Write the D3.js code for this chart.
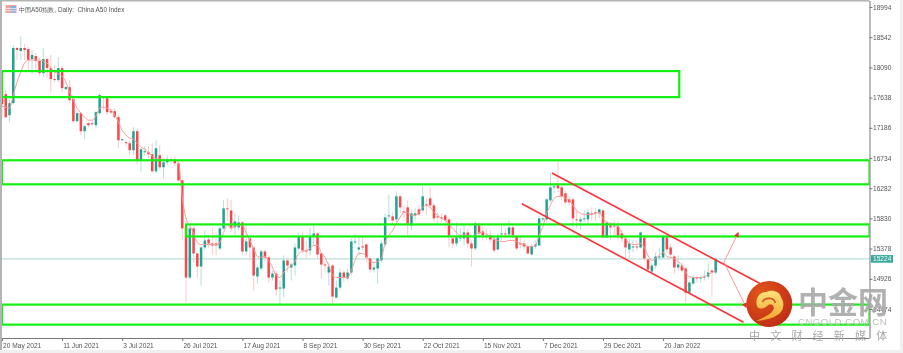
<!DOCTYPE html>
<html>
<head>
<meta charset="utf-8">
<script src="https://cdnjs.cloudflare.com/ajax/libs/d3/7.8.5/d3.min.js"></script>
<style>
    html, body { margin: 0; padding: 0; background: #fff; overflow: hidden; }
    svg { filter: blur(0.3px); }
    text { font-family: "Liberation Sans", Arial, sans-serif; }
    .axis text { font-size: 6.6px; fill: #555; }
    .axis path, .axis line { stroke: #777; }
</style>
</head>
<body>
<div id="chart"></div>
<script>
const opens = [
    17630,17690,17375,17555,18380,18335,18380,18365,18215,18260,
    18185,18005,18215,18080,17915,17900,18080,17765,17795,17615,
    17285,17405,17135,17255,17255,17225,17405,17645,17630,17435,
    17435,17345,17000,16970,16955,16850,17135,16700,16820,16820,
    16790,16535,16775,16595,16670,16700,16715,16655,16400,15710,
    14945,15680,15305,15110,15395,15515,15455,15455,15380,15680,
    15980,15950,15695,15695,15770,15335,15530,15395,14960,15080,
    15335,15245,14945,15005,14780,14780,15200,15095,15125,15380,
    15560,15350,15350,15560,15605,15305,15140,15020,15125,14645,
    14795,15020,14930,15020,15470,15365,15410,15440,15230,15065,
    15080,15200,15440,15860,15860,15815,16160,15935,15995,15725,
    15875,15965,15950,16040,16130,16025,15860,15845,15875,15815,
    15530,15455,15530,15530,15620,15455,15380,15725,15635,15575,
    15575,15515,15365,15590,15605,15590,15695,15560,15455,15455,
    15410,15290,15410,15425,15815,15815,16100,16295,16325,16295,
    16205,16115,16115,15815,15785,15815,15815,15905,15920,15905,
    15950,15545,15725,15725,15710,15605,15530,15365,15395,15410,
    15395,15545,15215,15035,15125,15245,15245,15545,15395,15260,
    15095,15125,15080,14720,14855,14945,14930,14945,14960,15050,15020
];
const closes = [
    17540,17345,17555,18380,18350,18380,18350,18200,18275,18185,
    18005,18215,18080,17915,17905,18080,17780,17795,17600,17285,
    17405,17135,17210,17225,17240,17420,17675,17630,17420,17415,
    17345,17000,17015,16955,16850,17135,16700,16865,16835,16790,
    16535,16880,16595,16670,16715,16715,16655,16400,15680,14945,
    15680,15305,15110,15395,15500,15455,15425,15425,15680,15980,
    15965,15680,15785,15770,15335,15485,15395,14975,15095,15335,
    15245,14945,15005,14765,14795,15200,15125,15140,15395,15560,
    15350,15335,15560,15605,15290,15140,15125,15110,14660,14795,
    15020,14945,15020,15485,15485,15395,15395,15245,15065,15095,
    15230,15455,15845,15875,15800,16160,15995,15920,15755,15905,
    15905,15890,16160,16025,16025,15830,15845,15830,15800,15575,
    15455,15545,15545,15620,15455,15380,15755,15605,15575,15560,
    15515,15350,15545,15605,15590,15695,15575,15380,15440,15410,
    15305,15410,15440,15830,15830,16115,16295,16310,16280,16160,
    16070,16070,15830,15800,15815,15830,15920,15890,15905,15965,
    15545,15770,15695,15710,15575,15530,15395,15455,15410,15395,
    15620,15230,15065,15125,15260,15260,15560,15365,15290,15095,
    15140,15050,14720,14870,14945,14930,14945,14960,15020,15020,15224
];
const highs = [
    17720,17750,17600,18425,18395,18560,18440,18395,18350,18305,
    18230,18380,18230,18275,18125,18245,18110,17810,17900,17630,
    17420,17420,17225,17270,17300,17435,17705,17660,17645,17480,
    17480,17375,17030,17000,17000,17195,17180,16880,16910,16910,
    16955,17000,16925,16700,16775,16745,16760,16670,16415,15830,
    15710,15710,15320,15425,15650,15560,15680,15620,15710,16100,
    16130,16100,15905,15875,15800,15725,15575,15410,15125,15365,
    15365,15275,15050,15050,14900,15275,15245,15170,15455,15620,
    15635,15500,15680,15725,15620,15320,15170,15170,15140,14900,
    15080,15050,15080,15530,15605,15575,15560,15455,15260,15170,
    15245,15500,15905,16190,15920,16235,16190,16025,16100,15965,
    15980,16025,16310,16130,16295,16055,15920,15905,15905,15845,
    15545,15770,15680,15725,15680,15500,15785,15770,15725,15680,
    15650,15545,15605,15725,15680,15800,15725,15575,15560,15500,
    15455,15440,15500,15875,15860,16130,16505,16355,16700,16325,
    16235,16160,16145,15950,15860,15950,15980,15995,15980,15980,
    15965,15800,15770,15800,15785,15650,15560,15530,15500,15500,
    15635,15575,15230,15170,15320,15395,15590,15575,15455,15290,
    15275,15170,15110,14885,14975,14975,14975,15050,15155,15080,15245
];
const lows = [
    17330,17330,17270,17540,18200,18200,18200,18050,17990,18020,
    17960,17945,17930,17720,17870,17870,17720,17750,17555,17270,
    17270,17075,17015,17195,17210,17180,17375,17450,17375,17390,
    17330,16880,16985,16910,16775,16775,16640,16520,16760,16730,
    16520,16505,16550,16430,16625,16655,16610,16370,15500,14570,
    14915,15170,14945,14825,15350,15395,15290,15275,15350,15650,
    15800,15620,15575,15650,15275,15275,15200,14750,14855,15050,
    15200,14870,14900,14675,14525,14645,15020,14900,14975,15350,
    15320,15230,15275,15425,15230,14930,15020,14825,14555,14630,
    14750,14870,14900,14975,15440,15275,15350,15170,15020,15020,
    14855,15170,15410,15800,15740,15770,15920,15830,15575,15650,
    15800,15860,15920,15890,15980,15770,15755,15770,15680,15395,
    15380,15410,15485,15425,15395,15110,15350,15530,15500,15500,
    15470,15320,15350,15500,15530,15545,15530,15350,15380,15365,
    15290,15275,15380,15410,15785,15770,16070,16205,16220,16100,
    16040,16025,15680,15680,15665,15770,15725,15800,15800,15830,
    15530,15530,15500,15530,15500,15470,15230,15245,15320,15350,
    15380,15200,15020,14990,15080,15200,15230,15305,15260,15005,
    15050,15020,14570,14705,14825,14870,14870,14900,14915,14675,14990
];
const movingAverage = [
    17510,17495,17480,17675,17870,18020,18155,18200,18200,18200,
    18200,18185,18155,18080,18020,17990,17960,17870,17720,17600,
    17480,17405,17345,17300,17300,17360,17480,17495,17480,17450,
    17375,17270,17150,17075,17030,17015,16955,16895,16865,16820,
    16760,16730,16715,16715,16715,16700,16700,16670,16145,15830,
    15725,15605,15470,15440,15440,15440,15440,15440,15470,15620,
    15725,15695,15710,15725,15725,15620,15500,15380,15260,15245,
    15260,15200,15095,14975,14945,15020,15080,15125,15185,15305,
    15335,15350,15380,15425,15425,15320,15245,15125,14975,14945,
    14945,14945,14945,15050,15200,15305,15305,15260,15185,15170,
    15185,15230,15470,15575,15650,15755,15845,15920,15920,15875,
    15875,15920,15995,16025,15995,15920,15875,15830,15800,15740,
    15680,15620,15575,15590,15575,15560,15575,15620,15620,15590,
    15560,15530,15500,15485,15485,15500,15500,15485,15455,15440,
    15410,15410,15425,15575,15710,15905,16025,16130,16160,16160,
    16130,16100,16025,15950,15905,15890,15890,15890,15905,15920,
    15830,15770,15755,15740,15710,15620,15530,15455,15440,15440,
    15455,15395,15275,15200,15230,15275,15320,15260,15245,15230,
    15185,15125,15020,14960,14945,14945,14945,14960,14990,15020,15050
];

const dateLabels = ['20 May 2021', '11 Jun 2021', '3 Jul 2021', '26 Jul 2021', '17 Aug 2021', '8 Sep 2021',
    '30 Sep 2021', '22 Oct 2021', '15 Nov 2021', '7 Dec 2021', '29 Dec 2021', '20 Jan 2022'];
const barsPerLabel = 16;
const priceTicks = [18994, 18542, 18090, 17638, 17186, 16734, 16282, 15830, 15378, 14926, 14474];
const lastPrice = 15224;

// support/resistance boxes: [first bar, last bar, top price, bottom price]
const zoneBars = [[0, 180.3], [0, 231], [49, 231], [0, 231]];
const zonePrices = [[18035, 17645], [16700, 16340], [15740, 15560], [14540, 14240]];

// channel lines and the two projected moves, in bars and prices
const channelLines = [
    [146.4, 16510, 201.8, 14855],
    [138.4, 16050, 197.4, 14275]
];
const projections = [
    [192.2, 15175, 196, 15615],
    [192.2, 15175, 198.1, 14500]
];

const width = 903;
const height = 353;
const plotRight = 869.5;
const plotBottom = 338;

const svg = d3.select('#chart')
    .append('svg')
    .attr('width', width)
    .attr('height', height)
    .style('display', 'block');

const xScale = d3.scaleLinear()
    .domain([0, barsPerLabel])
    .range([2, 62.1]);

const yScale = d3.scaleLinear()
    .domain([18994, 14474])
    .range([7, 309]);

// window chrome around the plot
svg.append('rect').attr('x', 900).attr('y', 0).attr('width', 3).attr('height', height).attr('fill', '#f0f0f0');
svg.append('rect').attr('x', 0).attr('y', 350).attr('width', width).attr('height', 3).attr('fill', '#f0f0f0');
svg.append('rect').attr('x', 0).attr('y', 0).attr('width', 2).attr('height', 350).attr('fill', '#b4b4b4');
svg.append('rect').attr('x', 0).attr('y', 0).attr('width', plotRight).attr('height', 1.5).attr('fill', '#b4b4b4');

svg.append('clipPath')
    .attr('id', 'plot-clip')
    .append('rect')
    .attr('x', 2)
    .attr('y', 1)
    .attr('width', plotRight - 2)
    .attr('height', plotBottom - 1);

const plot = svg.append('g').attr('clip-path', 'url(#plot-clip)');

plot.append('line')
    .attr('x1', 2)
    .attr('x2', plotRight)
    .attr('y1', yScale(lastPrice))
    .attr('y2', yScale(lastPrice))
    .attr('stroke', '#b9e0dc')
    .attr('stroke-width', 1.3);

const bars = d3.range(opens.length);

plot.append('g')
    .selectAll('line')
    .data(bars)
    .enter()
    .append('line')
    .attr('x1', d => xScale(d))
    .attr('x2', d => xScale(d))
    .attr('y1', d => yScale(highs[d]))
    .attr('y2', d => yScale(lows[d]))
    .attr('stroke', d => closes[d] >= opens[d] ? '#b5e0da' : '#fbc9c9')
    .attr('stroke-width', 1);

plot.append('g')
    .selectAll('rect')
    .data(bars)
    .enter()
    .append('rect')
    .attr('x', d => xScale(d) - 1.25)
    .attr('width', 2.5)
    .attr('y', d => yScale(Math.max(opens[d], closes[d])))
    .attr('height', d => Math.max(1, yScale(Math.min(opens[d], closes[d])) - yScale(Math.max(opens[d], closes[d]))))
    .attr('fill', d => closes[d] >= opens[d] ? '#20a293' : '#f6474b');

const maLine = d3.line()
    .x((d, i) => xScale(i))
    .y(d => yScale(d))
    .curve(d3.curveMonotoneX);

plot.append('path')
    .datum(movingAverage)
    .attr('d', maLine)
    .attr('fill', 'none')
    .attr('stroke', '#fb9a9a')
    .attr('stroke-width', 1);

plot.append('g')
    .selectAll('rect')
    .data(zonePrices)
    .enter()
    .append('rect')
    .attr('x', (d, i) => xScale(zoneBars[i][0]))
    .attr('width', (d, i) => Math.min(plotRight, xScale(zoneBars[i][1])) - xScale(zoneBars[i][0]))
    .attr('y', d => yScale(d[0]))
    .attr('height', d => yScale(d[1]) - yScale(d[0]))
    .attr('fill', 'none')
    .attr('stroke', '#12f012')
    .attr('stroke-width', 2.2);

plot.append('g')
    .selectAll('line')
    .data(channelLines)
    .enter()
    .append('line')
    .attr('x1', d => xScale(d[0]))
    .attr('y1', d => yScale(d[1]))
    .attr('x2', d => xScale(d[2]))
    .attr('y2', d => yScale(d[3]))
    .attr('stroke', '#fb3338')
    .attr('stroke-width', 1.6);

svg.append('marker')
    .attr('id', 'arrow')
    .attr('viewBox', '0 0 6 6')
    .attr('refX', 5)
    .attr('refY', 3)
    .attr('markerWidth', 5)
    .attr('markerHeight', 5)
    .attr('markerUnits', 'userSpaceOnUse')
    .attr('orient', 'auto')
    .append('path')
    .attr('d', 'M0,0L6,3L0,6Z')
    .attr('fill', '#f0262c');

plot.append('g')
    .selectAll('line')
    .data(projections)
    .enter()
    .append('line')
    .attr('x1', d => xScale(d[0]))
    .attr('y1', d => yScale(d[1]))
    .attr('x2', d => xScale(d[2]))
    .attr('y2', d => yScale(d[3]))
    .attr('stroke', '#f98a8a')
    .attr('stroke-width', 0.9)
    .attr('marker-end', 'url(#arrow)');

const xAxis = d3.axisBottom(xScale)
    .tickValues(dateLabels.map((d, i) => i * barsPerLabel))
    .tickFormat((d, i) => dateLabels[i])
    .tickSize(3)
    .tickSizeOuter(0);

const xAxisGroup = svg.append('g')
    .attr('class', 'axis')
    .attr('transform', 'translate(0,' + plotBottom + ')')
    .call(xAxis);

xAxisGroup.select('.domain').attr('d', 'M2,0.5H' + plotRight);
xAxisGroup.selectAll('text')
    .attr('text-anchor', 'start')
    .attr('x', 0.6)
    .attr('y', 5);

const yAxis = d3.axisRight(yScale)
    .tickValues(priceTicks)
    .tickFormat(d3.format('d'))
    .tickSize(3)
    .tickPadding(0.5);

const yAxisGroup = svg.append('g')
    .attr('class', 'axis')
    .attr('transform', 'translate(' + plotRight + ',0)')
    .call(yAxis);

yAxisGroup.select('.domain').attr('d', 'M0.5,1V' + plotBottom);

// current price tag
svg.append('rect')
    .attr('x', 871)
    .attr('y', yScale(lastPrice) - 3.8)
    .attr('width', 22)
    .attr('height', 7.6)
    .attr('fill', '#35a79b');

svg.append('text')
    .attr('x', 873)
    .attr('y', yScale(lastPrice) + 2.4)
    .attr('font-size', 6.6)
    .attr('fill', '#fff')
    .text(lastPrice);

// title with the small chart icon
const icon = svg.append('g').attr('transform', 'translate(5.5,5)');
icon.append('rect').attr('width', 11).attr('height', 8).attr('fill', '#f2a49a');
icon.append('rect').attr('x', 5).attr('y', 1).attr('width', 5.5).attr('height', 6.5).attr('fill', '#7fb2e6');
icon.append('rect').attr('x', 0.5).attr('y', 3).attr('width', 10).attr('height', 0.8).attr('fill', '#fbe9e6');
icon.append('rect').attr('x', 0.5).attr('y', 5.4).attr('width', 10).attr('height', 0.8).attr('fill', '#fbe9e6');

svg.append('text')
    .attr('x', 19)
    .attr('y', 11.5)
    .attr('font-size', 6.4)
    .attr('fill', '#555')
    .attr('xml:space', 'preserve')
    .text('中国A50指数, Daily:  China A50 Index');

// watermark logo
const logoGradient = svg.append('defs')
    .append('linearGradient')
    .attr('id', 'cloud-fill')
    .attr('x1', 0).attr('y1', 0).attr('x2', 0).attr('y2', 1);
logoGradient.append('stop').attr('offset', '0%').attr('stop-color', '#fde27a');
logoGradient.append('stop').attr('offset', '100%').attr('stop-color', '#f3a52c');

const discGradient = svg.select('defs')
    .append('radialGradient')
    .attr('id', 'disc-fill')
    .attr('cx', '35%').attr('cy', '30%').attr('r', '80%');
discGradient.append('stop').attr('offset', '0%').attr('stop-color', '#e2571c');
discGradient.append('stop').attr('offset', '100%').attr('stop-color', '#bd2a15');

const logo = svg.append('g').attr('transform', 'translate(769.3,304)');
logo.append('circle').attr('r', 23).attr('fill', 'url(#disc-fill)');
logo.append('path')
    .attr('d', 'M-12,3C-15,-5 -10,-12 -3,-12C2,-15 11,-13 12,-6C16,-1 14,8 8,11C3,15 -5,16 -13,17C-5,13 1,11 4,6C6,2 2,-1 -1,1C-4,4 -8,6 -12,3Z')
    .attr('fill', 'url(#cloud-fill)');
logo.append('path')
    .attr('d', 'M-7,-2C-4,-7 5,-7 6,-1')
    .attr('fill', 'none')
    .attr('stroke', '#d9531e')
    .attr('stroke-width', 1.6);

svg.append('text')
    .attr('x', 798)
    .attr('y', 312.5)
    .attr('font-size', 30)
    .attr('font-weight', 700)
    .attr('style', 'font-family:"Noto Sans CJK SC"')
    .attr('fill', '#a9a9a9')
    .attr('fill-opacity', 0.9)
    .text('中金网');

svg.append('text')
    .attr('x', 798)
    .attr('y', 325)
    .attr('font-size', 9.6)
    .attr('letter-spacing', 0.5)
    .attr('fill', '#bdbdbd')
    .text('CNGOLD.COM.CN');

svg.append('text')
    .attr('x', 749)
    .attr('y', 340)
    .attr('font-size', 11)
    .attr('letter-spacing', 10.2)
    .attr('style', 'font-family:"Noto Sans CJK SC"')
    .attr('fill', '#a9a9a9')
    .text('中文财经新媒体');
</script>
</body>
</html>
